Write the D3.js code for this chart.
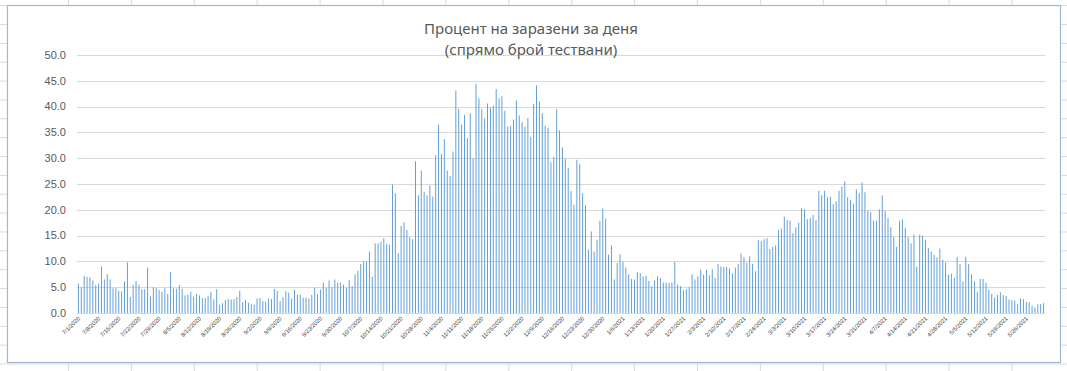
<!DOCTYPE html>
<html>
<head>
<meta charset="utf-8">
<script src="https://cdn.jsdelivr.net/npm/d3@7"></script>
<style>
  body { margin: 0; background: #fff; }
  svg { display: block; }
</style>
</head>
<body>
<svg id="chart" width="1067" height="371"></svg>
<script>
// daily share of positive tests, 7/1/2020 .. 6/1/2021
const firstDay = new Date(2020, 6, 1);
const lastDay = new Date(2021, 5, 1);

const positiveRate = [
  5.7, 5.0, 7.2, 7.0, 6.9, 6.3, 5.4, 5.7, 9.0, 6.5,
  7.5, 6.5, 4.8, 4.8, 4.3, 4.2, 6.1, 9.8, 3.1, 5.4,
  6.2, 5.5, 4.6, 4.6, 8.8, 3.2, 5.0, 4.8, 4.5, 4.1,
  4.8, 3.7, 7.9, 4.8, 4.7, 5.4, 4.7, 3.4, 3.6, 4.1,
  3.2, 3.7, 3.4, 2.9, 2.9, 3.2, 4.1, 2.6, 4.6, 1.6,
  1.9, 2.5, 2.7, 2.6, 2.7, 3.1, 4.3, 2.1, 2.5, 2.0,
  1.7, 1.6, 2.8, 2.9, 2.3, 2.2, 2.8, 2.7,
  4.7, 4.3, 2.3, 3.1, 4.2, 3.9, 2.8, 4.5, 3.5, 3.5,
  3.0, 3.0, 2.8, 3.5, 4.9, 3.7, 4.5, 5.9, 4.9, 6.3,
  5.0, 6.5, 5.9, 5.9, 5.5, 4.9, 6.4, 5.2, 7.5, 8.2,
  9.5, 10.0, 10.0, 11.9, 7.0, 13.5, 13.5, 13.8, 14.5, 13.4, 13.2,
  24.9, 23.2, 11.6, 16.9, 17.6, 16.1, 14.7, 14.3, 29.4, 22.8,
  27.6, 23.5, 22.8, 24.7, 22.6, 30.6, 36.5, 30.8, 33.7, 27.6,
  26.6, 31.3, 43.1, 39.6, 36.5, 38.4, 33.9, 38.7, 30.0, 44.4,
  41.6, 39.5, 37.7, 40.6, 39.8, 40.2, 43.4, 41.6, 42.0, 39.2,
  36.1, 36.3, 37.5,
  41.2, 38.3, 37.0, 36.1, 37.8, 34.1, 40.5, 44.1, 41.0, 38.7,
  36.3, 35.9, 29.2, 30.3, 39.5, 35.4, 32.1, 29.9, 28.1, 23.7,
  21.0, 29.7, 28.9, 23.2, 20.9, 12.3, 15.8, 11.9, 14.2, 17.9,
  20.3, 18.3, 11.3, 13.1, 6.5, 9.7, 11.4, 9.9, 8.8, 7.5, 6.6, 6.5,
  7.9, 7.7, 7.1, 7.2, 6.2, 5.2, 6.3, 7.1, 6.8, 5.9,
  5.9, 5.8, 5.9, 9.9, 5.5, 5.2, 4.4, 4.6, 5.0, 7.5,
  6.5, 7.1, 8.4, 7.4, 8.4, 7.3, 8.5, 6.8, 9.5, 9.0,
  8.9, 8.9, 8.6, 7.7, 8.8, 9.5, 11.5, 10.8, 9.8, 11.0,
  9.5, 8.1, 14.1, 13.9, 14.3, 14.5, 12.4, 12.8, 13.1,
  16.1, 16.4, 18.7, 18.1, 17.9, 15.5, 16.6, 17.5, 20.3, 20.1,
  18.2, 18.4, 19.0, 18.0, 23.7, 22.8, 23.7, 22.4, 22.5, 21.1,
  21.6, 23.7, 24.5, 25.5, 22.4, 21.9, 21.2, 24.0, 23.2, 25.3,
  23.4, 19.8, 19.5, 17.9, 17.9, 20.1, 22.8, 19.8, 18.4, 16.6,
  14.7, 12.8, 17.9, 18.1, 16.5, 14.7, 13.5, 15.2, 9.0, 15.2,
  15.0, 14.2, 12.6, 11.9, 11.3, 10.8, 12.5, 10.3, 9.8, 7.4, 7.6, 6.8,
  10.9, 9.5, 6.1, 10.9, 9.5, 7.5, 6.1, 4.1, 6.6, 6.6,
  5.9, 4.5, 3.7, 3.0, 3.5, 4.0, 3.5, 3.3, 2.6, 2.5,
  2.4, 1.7, 2.8, 2.7, 2.2, 2.1, 1.4, 1.1, 1.7, 1.7, 1.9
];

const tickLabels = [
  "7/1/2020", "7/8/2020", "7/15/2020", "7/22/2020", "7/29/2020", "8/5/2020",
  "8/12/2020", "8/19/2020", "8/26/2020", "9/2/2020", "9/9/2020", "9/16/2020",
  "9/23/2020", "9/30/2020", "10/7/2020", "10/14/2020", "10/21/2020", "10/28/2020",
  "11/4/2020", "11/11/2020", "11/18/2020", "11/25/2020", "12/2/2020", "12/9/2020",
  "12/16/2020", "12/23/2020", "12/30/2020", "1/6/2021", "1/13/2021", "1/20/2021",
  "1/27/2021", "2/3/2021", "2/10/2021", "2/17/2021", "2/24/2021", "3/3/2021",
  "3/10/2021", "3/17/2021", "3/24/2021", "3/31/2021", "4/7/2021", "4/14/2021",
  "4/21/2021", "4/28/2021", "5/5/2021", "5/12/2021", "5/19/2021", "5/26/2021"
];

const yTicks = [0, 5, 10, 15, 20, 25, 30, 35, 40, 45, 50];
const titleLines = ["Процент на заразени за деня", "(спрямо брой тествани)"];

const fmt = d3.timeFormat("%-m/%-d/%Y");
const days = d3.timeDay.range(firstDay, d3.timeDay.offset(lastDay, 1)).map(fmt);
const rows = days.map((d, i) => ({ day: d, v: positiveRate[i] }));

const svg = d3.select("#chart");
const W = 1067, H = 371;

// spreadsheet cells behind the chart
const sheet = svg.append("g").attr("stroke", "#dadada").attr("stroke-width", 1);
sheet.selectAll("line.c").data(d3.range(0, 17)).enter().append("line")
  .attr("x1", k => 68.5 + k * 62.9).attr("x2", k => 68.5 + k * 62.9)
  .attr("y1", 0).attr("y2", H);
sheet.selectAll("line.r").data(d3.range(-1, 19)).enter().append("line")
  .attr("x1", 0).attr("x2", W)
  .attr("y1", k => 24.5 + k * 18.86).attr("y2", k => 24.5 + k * 18.86);

// chart area
svg.append("rect")
  .attr("x", 7.5).attr("y", 5.5).attr("width", 1053).attr("height", 357)
  .attr("fill", "#fff").attr("stroke", "#9fb6d6").attr("stroke-width", 1.2);

const x = d3.scaleBand().domain(days).range([77, 1045]).paddingInner(0.67).paddingOuter(0.33);
const y = d3.scaleLinear().domain([0, 50]).range([313, 55]);

svg.append("g").selectAll("line").data(yTicks).enter().append("line")
  .attr("x1", 77).attr("x2", 1045)
  .attr("y1", d => Math.round(y(d)) + 0.5).attr("y2", d => Math.round(y(d)) + 0.5)
  .attr("stroke", "#d9d9d9");

svg.append("g").selectAll("text").data(yTicks).enter().append("text")
  .attr("x", 66).attr("y", d => y(d))
  .attr("dy", "0.35em").attr("text-anchor", "end")
  .attr("font-family", "'Liberation Sans', Arial, sans-serif").attr("font-size", 11)
  .attr("fill", "#595959")
  .text(d => d.toFixed(1));

svg.append("g").selectAll("rect").data(rows).enter().append("rect")
  .attr("x", d => x(d.day))
  .attr("y", d => y(d.v))
  .attr("width", x.bandwidth())
  .attr("height", d => y(0) - y(d.v))
  .attr("fill", "#5b9bd5");

svg.append("g").selectAll("text").data(days.filter(d => tickLabels.includes(d))).enter().append("text")
  .attr("transform", d => `translate(${x(d) + x.bandwidth() / 2 + 2},${319}) rotate(-45)`)
  .attr("text-anchor", "end")
  .attr("font-family", "'Liberation Sans', Arial, sans-serif").attr("font-size", 5.8)
  .attr("fill", "#404040")
  .text(d => d);

svg.append("g").selectAll("text").data(titleLines).enter().append("text")
  .attr("x", 531).attr("y", (d, i) => 34 + i * 21)
  .attr("text-anchor", "middle")
  .attr("font-family", "'Noto Sans', 'Open Sans', sans-serif").attr("font-size", 15)
  .attr("fill", "#595959")
  .text(d => d);
</script>
</body>
</html>
